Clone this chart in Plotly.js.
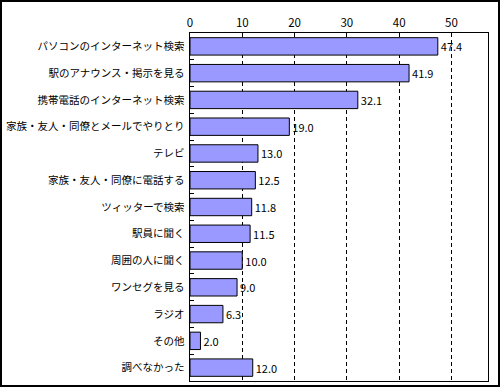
<!DOCTYPE html>
<html><head><meta charset="utf-8">
<script src="https://cdn.plot.ly/plotly-3.0.1.min.js"></script>
<style>
body{margin:0;padding:0;background:#fff;}
#wrap{position:relative;width:500px;height:387px;}
#chart{width:500px;height:387px;}
#frame{position:absolute;left:0;top:0;width:496px;height:383px;border:2px solid #000;pointer-events:none;}
</style></head>
<body>
<div id="wrap"><div id="chart"></div><div id="frame"></div></div>
<script>
const categories = ["パソコンのインターネット検索","駅のアナウンス・掲示を見る","携帯電話のインターネット検索","家族・友人・同僚とメールでやりとり","テレビ","家族・友人・同僚に電話する","ツィッターで検索","駅員に聞く","周囲の人に聞く","ワンセグを見る","ラジオ","その他","調べなかった"];
const values = [47.4,41.9,32.1,19.0,13.0,12.5,11.8,11.5,10.0,9.0,6.3,2.0,12.0];
const xTicks = [0,10,20,30,40,50];

const font = "'Noto Sans CJK JP', 'Liberation Sans', sans-serif";
Plotly.newPlot('chart', [{
  type:'bar', orientation:'h',
  x: values, y: categories,
  marker:{color:'#9999FF', line:{color:'#000', width:1}},
  text: values.map(v=>v.toFixed(1)), textposition:'outside', cliponaxis:false,
  textfont:{family:font, size:11, color:'#000'},
  hoverinfo:'none'
}], {
  width:500, height:387,
  margin:{l:190, r:12, t:33, b:6},
  paper_bgcolor:'#fff', plot_bgcolor:'#fff',
  bargap:0.35,
  showlegend:false,
  font:{family:font, size:12, color:'#000'},
  xaxis:{side:'top', range:[0,57], tickvals:xTicks, ticktext:xTicks.map(String),
    showgrid:true, gridcolor:'#000', griddash:'4px,3px', gridwidth:1,
    ticks:'inside', ticklen:4, tickcolor:'#000',
    showline:true, linecolor:'#000', linewidth:1, mirror:true, zeroline:false,
    tickfont:{family:font, size:11.5, color:'#000'}, fixedrange:true},
  yaxis:{type:'category', autorange:'reversed', tickson:'boundaries', ticks:'inside', ticklen:4, tickcolor:'#000',
    showline:true, linecolor:'#000', linewidth:1, mirror:true, showgrid:false,
    tickfont:{family:font, size:10.5, color:'#000'}, ticksuffix:' ', fixedrange:true}
}, {staticPlot:true});
</script>
</body></html>
